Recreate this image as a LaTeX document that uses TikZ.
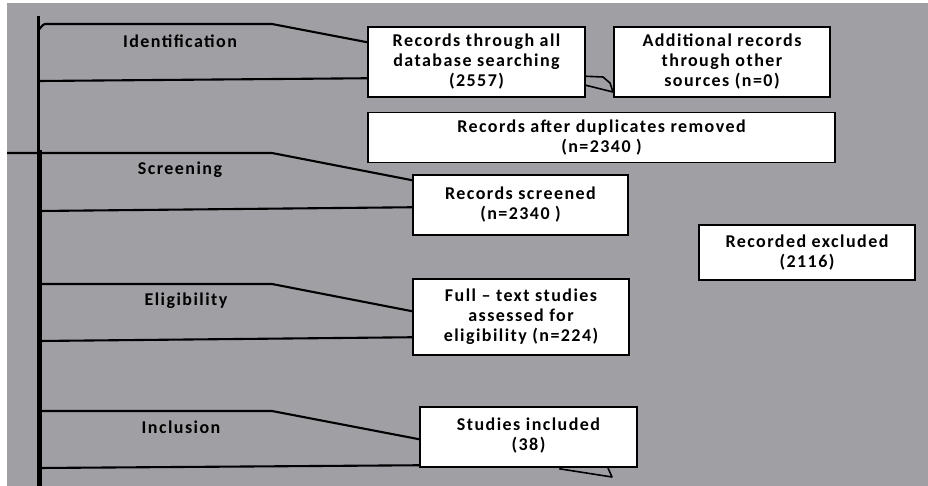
\documentclass[tikz,border=0pt]{standalone}
\usepackage{fontspec}
\newfontfamily\cf{Carlito}[LetterSpace=8]
\usetikzlibrary{calc}
\definecolor{bggray}{RGB}{160,159,164}
\tikzset{
  box/.style={draw=black, line width=1.5pt, fill=white, inner sep=0pt, align=center,
    font=\cf\bfseries\fontsize{18}{20}\selectfont},
  lbl/.style={inner sep=0pt, font=\cf\bfseries\fontsize{18}{20}\selectfont},
  ln/.style={line width=2.1pt, black},
}
\begin{document}
\begin{tikzpicture}[x=1pt,y=-1pt]
\useasboundingbox (0,0) rectangle (928,486);
\fill[white] (0,0) rectangle (928,486);
\fill[bggray] (7,3) rectangle (928,486);

% vertical spine
\coordinate (sTop) at (38.5,16);
\coordinate (sBot) at (38.5,486);
\coordinate (s2Top) at (41,150);
\coordinate (s2Bot) at (41,486);
\draw[ln] (sTop) -- (sBot);
\draw[ln, line width=1.5pt] (s2Top) -- (s2Bot);

% boxes
\node[box, minimum width=217pt, minimum height=70pt] (b1) at (476.5,62) {Records through all\\database searching\\(2557)};
\node[box, minimum width=216pt, minimum height=70pt] (b2) at (722,62) {Additional records\\through other\\sources (n=0)};
\node[box, minimum width=467pt, minimum height=50pt] (b3) at (601.5,137.5) {Records after duplicates removed\\(n=2340 )};
\node[box, minimum width=215pt, minimum height=60pt, text depth=4pt] (b4) at (520.5,205) {Records screened\\(n=2340 )};
\node[box, minimum width=216pt, minimum height=55pt] (b5) at (807,252.5) {Recorded excluded\\(2116)};
\node[box, minimum width=216pt, minimum height=76pt] (b6) at (521,317) {Full – text studies\\assessed for\\eligibility (n=224)};
\node[box, minimum width=217pt, minimum height=60pt, text depth=6pt] (b7) at (528.5,437) {Studies included\\(38)};

% stage labels
\node[lbl] (l1) at (180,41) {Identification};
\node[lbl] (l2) at (180,170) {Screening};
\node[lbl] (l3) at (186,301) {Eligibility};
\node[lbl] (l4) at (181,427) {Inclusion};

% Identification band
\coordinate (i0) at (39,28);
\coordinate (i1) at (45,24);
\coordinate (i2) at (272,24);
\coordinate (i3) at (39,81);
\draw[ln] (i0) to[out=-80,in=180] (i1) -- (i2) -- ($(b1.north west)+(0,16)$);
\draw[ln] (i3) -- ($(b1.north west)+(0,52)$);

% Screening band
\coordinate (s0) at (7,153);
\coordinate (s1) at (272,153);
\coordinate (s3) at (39,211);
\draw[ln] (s0) -- (s1) -- ($(b4.north west)+(0,6)$);
\draw[ln] (s3) -- ($(b4.north west)+(0,33)$);

% Eligibility band
\coordinate (e0) at (39,284);
\coordinate (e1) at (272,284);
\coordinate (e3) at (39,341);
\draw[ln] (e0) -- (e1) -- ($(b6.north west)+(0,33)$);
\draw[ln] (e3) -- ($(b6.north west)+(0,59)$);

% Inclusion band
\coordinate (n0) at (39,411);
\coordinate (n1) at (272,411);
\coordinate (n3) at (39,468);
\draw[ln] (n0) -- (n1) -- ($(b7.north west)+(0,33)$);
\draw[ln] (n3) -- ($(b7.north west)+(0,59)$);

% callout tails
\coordinate (t1) at (603,77);
\coordinate (t2) at (610,83);
\coordinate (t3) at (613,92);
\draw[ln, line width=1.6pt, line join=round] ($(b1.north east)+(0,50)$) -- (t1) -- (t2) -- (t3) -- ($(b1.north east)+(0,59)$);
\coordinate (u1) at (612,477);
\coordinate (u2) at (608,468);
\draw[ln, line width=1.6pt, line join=round] ($(b7.south west)+(140,1)$) -- (u1) -- (u2);
\end{tikzpicture}
\end{document}
